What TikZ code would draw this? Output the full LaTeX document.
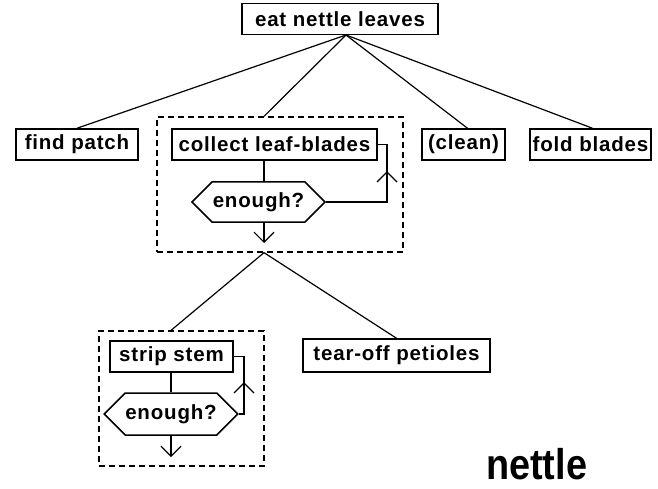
\documentclass[tikz,border=0pt]{standalone}
\usepackage{fontspec}
\setmainfont{Liberation Sans}
\newfontfamily\boxfont[LetterSpace=4]{Liberation Sans}
\newfontfamily\titlefont{Liberation Sans}
\usetikzlibrary{shapes.symbols,arrows.meta}
\begin{document}
\begin{tikzpicture}[x=1pt,y=-1pt,
  boxnode/.style={draw,line width=1.5pt,minimum height=31pt,inner sep=0pt,
    font=\boxfont\bfseries\fontsize{20.5}{24}\selectfont},
  hexnode/.style={draw,line width=1.5pt,shape=signal,signal to=west and east,
    signal pointer angle=90,inner sep=0pt,
    font=\boxfont\bfseries\fontsize{20.5}{24}\selectfont},
  groupbox/.style={draw,line width=1.3pt,dash pattern=on 6pt off 4pt,inner sep=0pt},
  conn/.style={line width=1.2pt},
  downarrow/.style={line width=1.2pt,-{Straight Barb[length=10pt,width=20pt,line width=1.2pt]}}
]
\useasboundingbox (0,0) rectangle (658,489);

% top level
\node[boxnode,minimum width=196pt] (top) at (340,19) {eat nettle leaves};
\node[boxnode,minimum width=122pt] (find) at (77,144.5) {find patch};
\node[groupbox,minimum width=246pt,minimum height=135pt] (d1) at (280,184.5) {};
\node[boxnode,minimum width=205pt] (collect) at (274.5,144.5) {collect leaf-blades};
\node[boxnode,minimum width=83pt] (clean) at (463.5,144.5) {(clean)};
\node[boxnode,minimum width=121pt] (fold) at (590.5,144.5) {fold blades};
\node[hexnode,minimum width=133pt,minimum height=40pt] (hex1) at (258.5,202) {enough?};

% second level
\node[groupbox,minimum width=165pt,minimum height=135pt] (d2) at (181.5,398.5) {};
\node[boxnode,minimum width=123pt] (strip) at (171.5,356.5) {strip stem};
\node[boxnode,minimum width=187pt,minimum height=33pt] (tear) at (396.5,355.5) {tear-off petioles};
\node[hexnode,minimum width=124pt,minimum height=42pt] (hex2) at (171,414) {enough?};

\node[anchor=base west,inner sep=0pt,font=\titlefont\bfseries\fontsize{43}{48}\selectfont] (title) at (486,479) {\scalebox{0.88}[1]{nettle}};

% helper coordinates
\coordinate (apex) at (346,35);
\coordinate (c1) at (264,0);
\coordinate (c2) at (171,0);
\coordinate (lp1) at (387,0);
\coordinate (lp2) at (244,0);
\coordinate (da1) at (264,243);
\coordinate (da2) at (171,457);
\coordinate (tip1) at (387,172);
\coordinate (tip2) at (244,383);

% tree connectors
\draw[conn] (apex) -- (find.north);
\draw[conn] (apex) -- (d1.north -| c1);
\draw[conn] (apex) -- ([xshift=4pt]clean.north);
\draw[conn] (apex) -- ([xshift=2pt]fold.north);
\draw[conn] (d1.south -| c1) -- (d2.north -| c2);
\draw[conn] (d1.south -| c1) -- (tear.north);

% loop 1
\draw[conn] (collect.south -| c1) -- (hex1.north -| c1);
\draw[conn] (hex1.east) -| (lp1 |- collect.east) -- (collect.east);
\draw[conn] ([xshift=-10pt,yshift=-10pt]tip1) -- (tip1) -- ([xshift=10pt,yshift=-10pt]tip1);
\draw[downarrow] (hex1.south -| c1) -- (da1);

% loop 2
\draw[conn] (strip.south -| c2) -- (hex2.north -| c2);
\draw[conn] (hex2.east) -| (lp2 |- strip.east) -- (strip.east);
\draw[conn] ([xshift=-10pt,yshift=-10pt]tip2) -- (tip2) -- ([xshift=10pt,yshift=-10pt]tip2);
\draw[downarrow] (hex2.south -| c2) -- (da2);
\end{tikzpicture}
\end{document}
